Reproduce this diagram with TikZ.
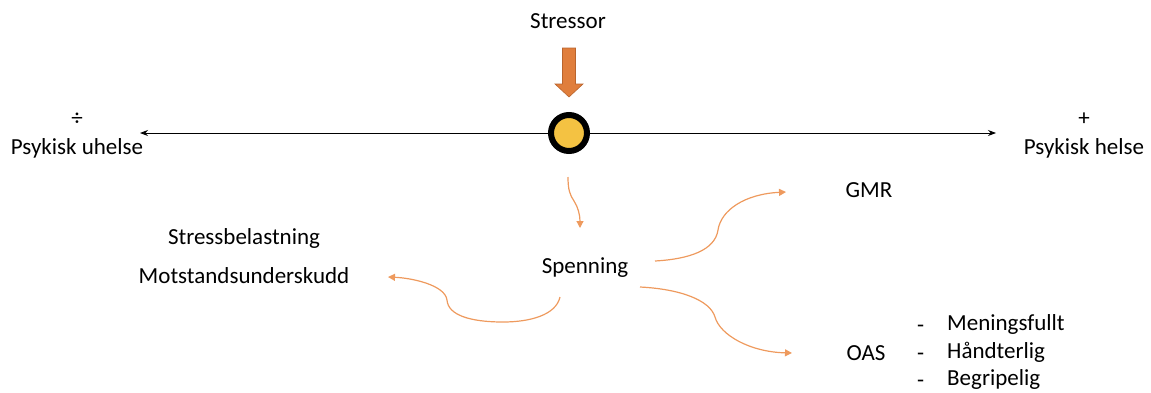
\documentclass[tikz,border=0pt]{standalone}
\usepackage{fontspec}
\setmainfont{Carlito}
\usetikzlibrary{arrows.meta}
\definecolor{stressorange}{HTML}{E07E3C}
\definecolor{stressedge}{HTML}{B9642D}
\definecolor{flow}{HTML}{EE9A5E}
\definecolor{balance}{HTML}{F4C242}
\tikzset{
  lbl/.style={font=\fontsize{23}{26}\selectfont, inner sep=0pt, text height=15pt, text depth=0pt, text=black},
  flowarrow/.style={draw=flow, line width=1.2pt, -{Triangle[length=7pt,width=7pt]}},
  axis/.style={draw=black, line width=0.9pt, {Stealth[length=8pt,width=6pt]}-{Stealth[length=8pt,width=6pt]}}
}
\begin{document}
\begin{tikzpicture}[x=1pt,y=-1pt]
\useasboundingbox (0,0) rectangle (1151,392);

% axis between the two poles
\node[lbl] (minus) at (77,118) {÷};
\node[lbl] (uhelse) at (77,147) {Psykisk uhelse};
\node[lbl] (plus) at (1084,118) {+};
\node[lbl] (helse) at (1084,147) {Psykisk helse};
\coordinate (axL) at (140,133);
\coordinate (axR) at (996,133);
\draw[axis] (axL) -- (axR);

% stressor pushing down on the balance point
\node[lbl] (stressor) at (568,21) {Stressor};
\draw[fill=stressorange, draw=stressedge, line width=0.6pt]
  (562.5,48) -- (575.5,48) -- (575.5,84) -- (583,84) -- (569,97) -- (555,84) -- (562.5,84) -- cycle;
\node[circle, draw=black, line width=6pt, fill=balance, minimum size=36pt, inner sep=0pt] (ball) at (569,133) {};

% outcomes
\node[lbl] (spenning) at (585,266) {Spenning};
\node[lbl] (gmr) at (869,190) {GMR};
\node[lbl] (stress) at (244,237) {Stressbelastning};
\node[lbl] (motstand) at (244,276) {Motstandsunderskudd};
\node[lbl] (oas) at (866,353) {OAS};
\node[lbl, anchor=west] (d1) at (917,325) {-};
\node[lbl, anchor=west] (d2) at (917,353) {-};
\node[lbl, anchor=west] (d3) at (917,380) {-};
\node[lbl, anchor=west] (m1) at (947,323) {Meningsfullt};
\node[lbl, anchor=west] (m2) at (947,351) {Håndterlig};
\node[lbl, anchor=west] (m3) at (947,378) {Begripelig};

% flow arrows
\coordinate (ballOut) at (568,177);
\coordinate (spIn) at (580,228);
\draw[flowarrow] (ballOut) .. controls (568,190) and (570,195) .. (574,201)
  .. controls (578,207) and (580,215) .. (spIn);

\coordinate (spGmr) at (655,261);
\coordinate (gmrIn) at (786,192);
\draw[flowarrow] (spGmr) .. controls (690,259) and (715,250) .. (718,230)
  .. controls (721,210) and (745,194) .. (gmrIn);

\coordinate (spOas) at (640,287);
\coordinate (oasIn) at (792,353);
\draw[flowarrow] (spOas) .. controls (680,289) and (710,300) .. (715,317)
  .. controls (720,335) and (750,352) .. (oasIn);

\coordinate (spLeft) at (560,297);
\coordinate (motIn) at (388,277);
\draw[flowarrow] (spLeft) .. controls (556,315) and (530,322) .. (503,322)
  .. controls (470,322) and (448,315) .. (447,300)
  .. controls (445,285) and (412,278) .. (motIn);
\end{tikzpicture}
\end{document}
